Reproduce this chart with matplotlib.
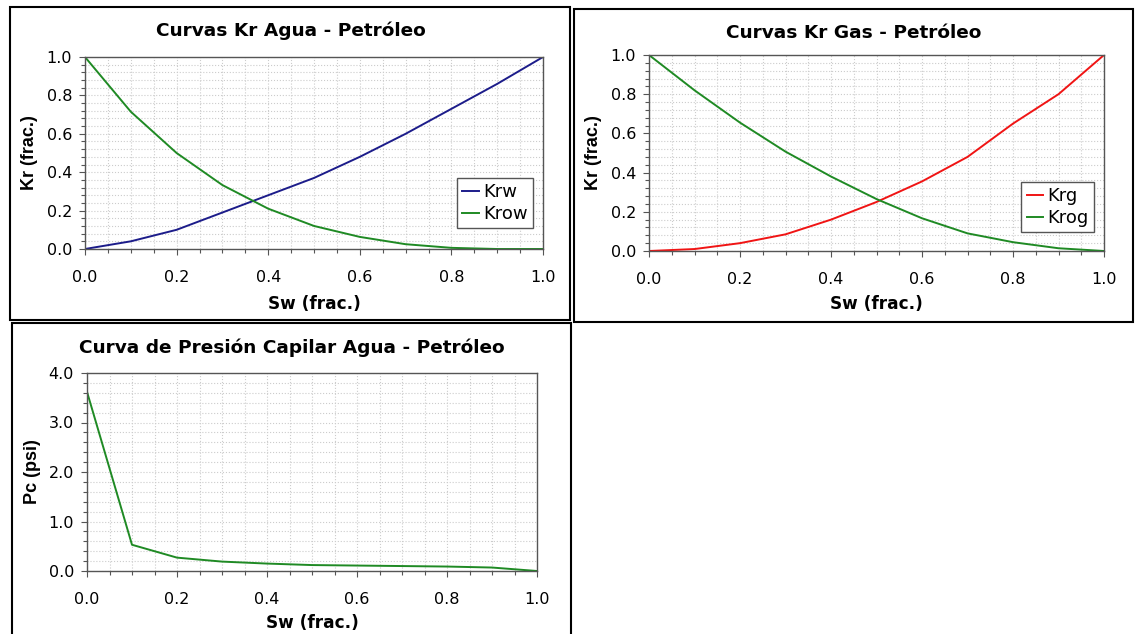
import matplotlib
matplotlib.use("Agg")
import matplotlib.pyplot as plt
from matplotlib.patches import Rectangle
from matplotlib.ticker import MultipleLocator

plt.rcParams["font.family"] = ["DejaVu Sans"]

# Saturation points (frac.)
sw = [0.0, 0.1, 0.2, 0.3, 0.4, 0.5, 0.6, 0.7, 0.8, 0.9, 1.0]

# Water - oil relative permeability
krw = [0.0, 0.04, 0.10, 0.19, 0.28, 0.37, 0.48, 0.60, 0.73, 0.86, 1.0]
krow = [1.0, 0.715, 0.50, 0.333, 0.21, 0.12, 0.063, 0.025, 0.006, 0.0, 0.0]

# Gas - oil relative permeability
krg = [0.0, 0.01, 0.04, 0.085, 0.16, 0.25, 0.355, 0.48, 0.65, 0.80, 1.0]
krog = [1.0, 0.82, 0.655, 0.507, 0.38, 0.265, 0.167, 0.09, 0.045, 0.014, 0.0]

# Water - oil capillary pressure (psi)
pc = [3.62, 0.53, 0.27, 0.19, 0.15, 0.12, 0.11, 0.10, 0.09, 0.07, 0.0]

NAVY = "#1c1c8a"
GREEN = "#1f8a24"
RED = "#f01414"

W, H = 1135, 634
fig = plt.figure(figsize=(W / 100, H / 100), dpi=100)


def px_rect(x0, y0, x1, y1):
    # pixel box (top-left origin) -> figure fraction [left, bottom, width, height]
    return [x0 / W, 1 - y1 / H, (x1 - x0) / W, (y1 - y0) / H]


def panel_box(x0, y0, x1, y1):
    r = px_rect(x0, y0, x1, y1)
    fig.patches.append(Rectangle((r[0], r[1]), r[2], r[3], transform=fig.transFigure,
                                 fill=False, edgecolor="black", linewidth=1.5))


def style_axes(ax, ymax, ymajor, yminor, ylabel, xlab_y):
    ax.set_xlim(0, 1)
    ax.set_ylim(0, ymax)
    ax.xaxis.set_major_locator(MultipleLocator(0.2))
    ax.xaxis.set_minor_locator(MultipleLocator(0.05))
    ax.yaxis.set_major_locator(MultipleLocator(ymajor))
    ax.yaxis.set_minor_locator(MultipleLocator(yminor))
    ax.xaxis.set_major_formatter("{x:.1f}")
    ax.yaxis.set_major_formatter("{x:.1f}")
    ax.grid(True, which="both", linestyle=":", color="#cccccc", linewidth=0.8)
    ax.set_axisbelow(True)
    for s in ax.spines.values():
        s.set_color("#555555")
        s.set_linewidth(1.0)
    ax.tick_params(which="major", length=4.3, width=0.8, color="#555555", labelsize=11.5)
    ax.tick_params(which="minor", length=3, width=0.8, color="#555555")
    ax.tick_params(axis="y", which="major", pad=5)
    ax.tick_params(axis="x", which="major", pad=11)
    ax.set_xlabel("Sw (frac.)", fontsize=12.2, fontweight="bold", va="center")
    ax.xaxis.set_label_coords(0.5, xlab_y)
    ax.set_ylabel(ylabel, fontsize=13, fontweight="bold", family="Liberation Sans",
                  va="center")
    ax.yaxis.set_label_coords(-0.121, 0.5)


def add_legend(ax, x, y):
    ax.legend(loc="upper left", bbox_to_anchor=(x, y), borderaxespad=0, fontsize=13,
              handlelength=0.9, handletextpad=0.25, borderpad=0.3, labelspacing=0.2,
              fancybox=False, framealpha=1, edgecolor="#555555")


# panel frames
panel_box(10, 7, 570, 320)
panel_box(574, 9, 1133, 322)
panel_box(12, 323, 571, 640)

# Kr water - oil
ax1 = fig.add_axes(px_rect(85, 57, 543, 249))
ax1.plot(sw, krw, color=NAVY, linewidth=1.4, label="Krw")
ax1.plot(sw, krow, color=GREEN, linewidth=1.4, label="Krow")
style_axes(ax1, 1.0, 0.2, 0.04, "Kr (frac.)", -0.286)
add_legend(ax1, 0.812, 0.370)
fig.text(291 / W, 1 - 31 / H, "Curvas Kr Agua - Petróleo", ha="center", va="center",
         fontsize=13.3, fontweight="bold")

# Kr gas - oil
ax2 = fig.add_axes(px_rect(649, 55, 1104, 251))
ax2.plot(sw, krg, color=RED, linewidth=1.4, label="Krg")
ax2.plot(sw, krog, color=GREEN, linewidth=1.4, label="Krog")
style_axes(ax2, 1.0, 0.2, 0.04, "Kr (frac.)", -0.270)
add_legend(ax2, 0.818, 0.352)
fig.text(854 / W, 1 - 33 / H, "Curvas Kr Gas - Petróleo", ha="center", va="center",
         fontsize=13.3, fontweight="bold")

# capillary pressure
ax3 = fig.add_axes(px_rect(87, 373, 537, 571))
ax3.plot(sw, pc, color=GREEN, linewidth=1.4)
style_axes(ax3, 4.0, 1.0, 0.2, "Pc (psi)", -0.263)
fig.text(292 / W, 1 - 348 / H, "Curva de Presión Capilar Agua - Petróleo",
         ha="center", va="center", fontsize=13.3, fontweight="bold")

fig.savefig("out.png", dpi=100)
